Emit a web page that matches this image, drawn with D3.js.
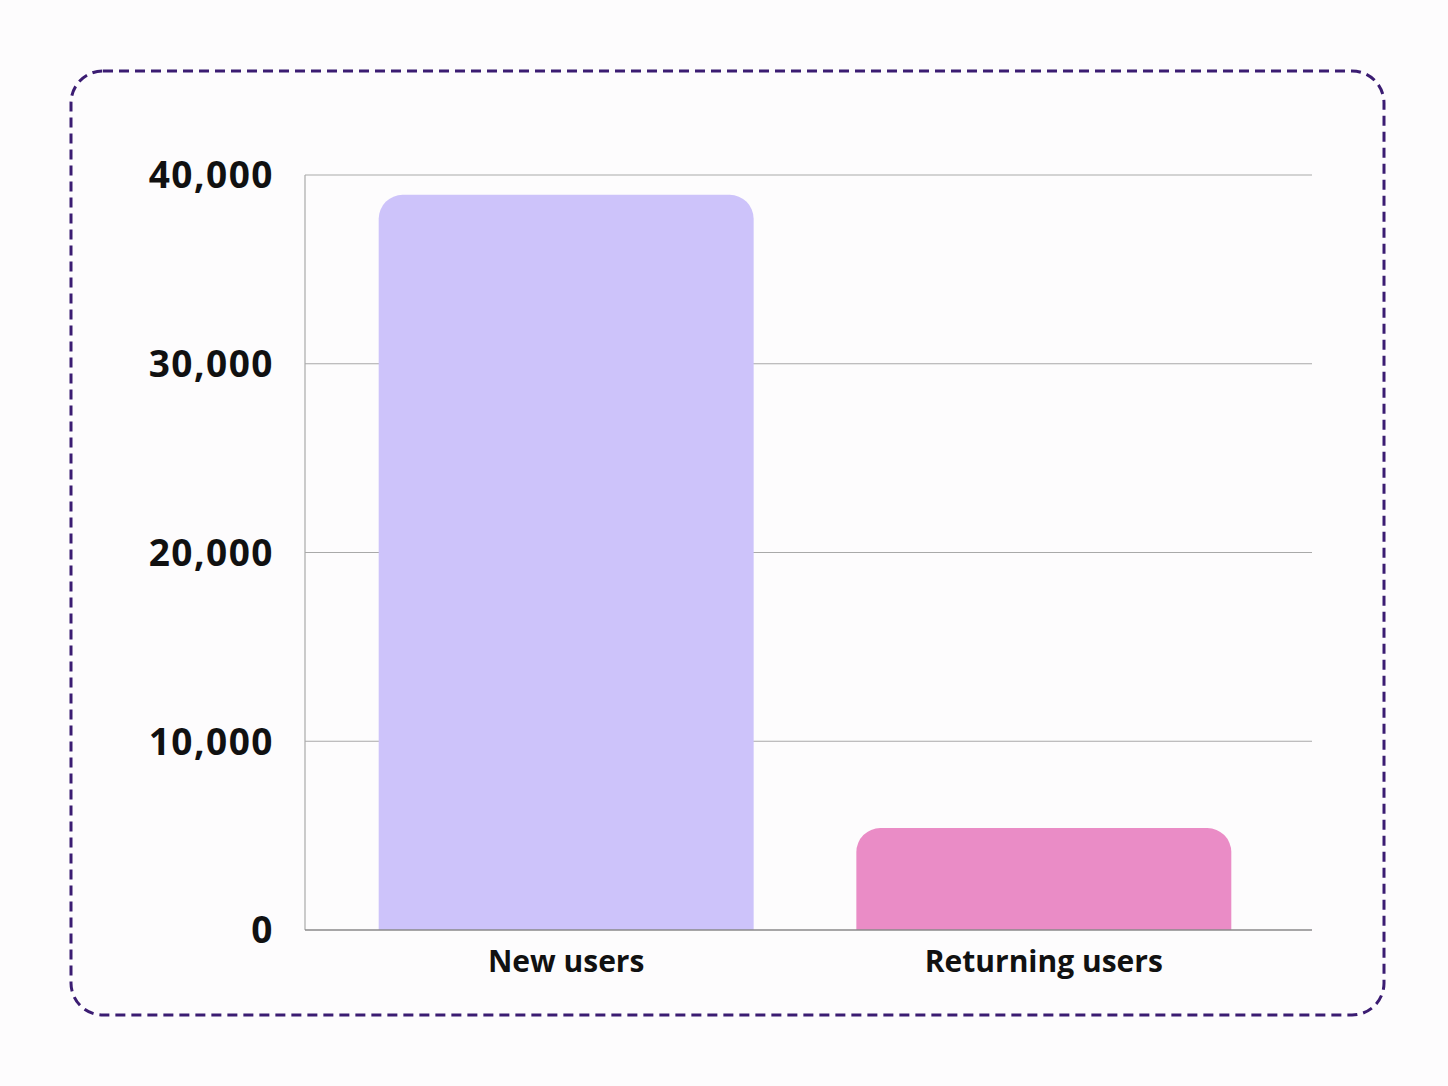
<!DOCTYPE html>
<html>
<head>
<meta charset="utf-8">
<script src="https://cdn.jsdelivr.net/npm/d3@7"></script>
<style>
  body { margin: 0; background: #fdfcfd; }
  svg { display: block; }
  .ytick text { font-family: "Open Sans", sans-serif; font-weight: 700; font-size: 37px; letter-spacing: 1.5px; fill: #111; }
  .xlabel { font-family: "Open Sans", sans-serif; font-weight: 700; font-size: 30px; fill: #111; }
</style>
</head>
<body>
<div id="chart"></div>
<script>
var categories = ["New users", "Returning users"];
var userCounts = [38950, 5400];
var barColors = ["#cdc3fa", "#ea8cc6"];
var yTicks = [0, 10000, 20000, 30000, 40000];

var W = 1448, H = 1086;
var plot = { left: 305, right: 1312, top: 175, bottom: 930 };

var svg = d3.select("#chart")
    .append("svg")
    .attr("width", W)
    .attr("height", H);

svg.append("rect")
    .attr("width", W).attr("height", H)
    .attr("fill", "#fdfcfd");

// dashed frame
svg.append("rect")
    .attr("x", 71).attr("y", 71)
    .attr("width", 1313).attr("height", 944)
    .attr("rx", 32).attr("ry", 32)
    .attr("fill", "none")
    .attr("stroke", "#3b1c72")
    .attr("stroke-width", 3)
    .attr("stroke-dasharray", "10,6");

var y = d3.scaleLinear().domain([0, 40000]).range([plot.bottom, plot.top]);
var x = d3.scaleBand().domain(categories).range([276, 1334]).padding(0.215);

// gridlines
svg.selectAll(".grid").data(yTicks.slice(1)).enter()
    .append("line")
    .attr("class", "grid")
    .attr("x1", plot.left).attr("x2", plot.right)
    .attr("y1", function(d){ return y(d); })
    .attr("y2", function(d){ return y(d); })
    .attr("stroke", "#a9a9a9")
    .attr("stroke-width", 1.2);

// left axis line
svg.append("line")
    .attr("x1", plot.left).attr("x2", plot.left)
    .attr("y1", plot.top).attr("y2", plot.bottom)
    .attr("stroke", "#a9a9a9")
    .attr("stroke-width", 1.2);

// y labels
var yAxis = d3.axisLeft(y).tickValues(yTicks).tickSize(0).tickPadding(31)
    .tickFormat(d3.format(","));
svg.append("g")
    .attr("class", "ytick")
    .attr("transform", "translate(" + plot.left + ",0)")
    .call(yAxis)
    .call(function(g){ g.select(".domain").remove(); })
    .selectAll("text").attr("dy", "0.35em");

// bars with rounded tops
var r = 24;
svg.selectAll(".bar").data(userCounts).enter()
    .append("path")
    .attr("class", "bar")
    .attr("fill", function(d, i){ return barColors[i]; })
    .attr("d", function(d, i) {
        var x0 = x(categories[i]), w = x.bandwidth();
        var yt = y(d), yb = y(0);
        return "M" + x0 + "," + yb +
            "V" + (yt + r) +
            "A" + r + "," + r + " 0 0 1 " + (x0 + r) + "," + yt +
            "H" + (x0 + w - r) +
            "A" + r + "," + r + " 0 0 1 " + (x0 + w) + "," + (yt + r) +
            "V" + yb + "Z";
    });

// baseline
svg.append("line")
    .attr("x1", plot.left).attr("x2", plot.right)
    .attr("y1", plot.bottom).attr("y2", plot.bottom)
    .attr("stroke", "#8a8a8a")
    .attr("stroke-width", 1.5);

// category labels
svg.selectAll(".xlabel").data(categories).enter()
    .append("text")
    .attr("class", "xlabel")
    .attr("x", function(d){ return x(d) + x.bandwidth() / 2; })
    .attr("y", 972)
    .attr("text-anchor", "middle")
    .text(function(d){ return d; });
</script>
</body>
</html>
